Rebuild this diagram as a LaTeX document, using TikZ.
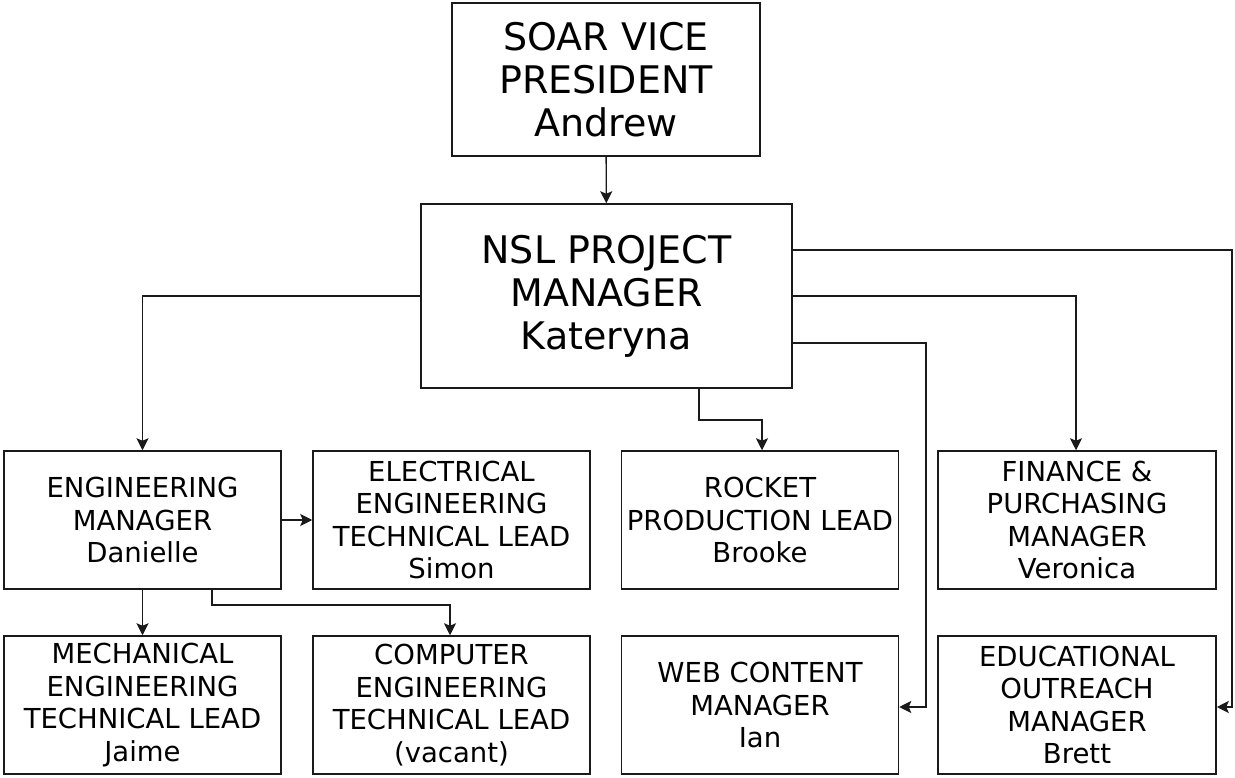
\documentclass[tikz,border=0pt]{standalone}
\usepackage{fontspec}
\setmainfont{DejaVu Sans}
\usetikzlibrary{arrows.meta}
\definecolor{ink}{HTML}{1A1A1A}
\begin{document}
\begin{tikzpicture}[x=1pt,y=-1pt,
  box/.style={draw=ink,line width=1.5pt,rectangle,align=center,inner sep=0pt,
    minimum width=277pt,minimum height=138pt,font=\fontsize{27.5}{32.6}\selectfont,text=black},
  bigbox/.style={box,font=\fontsize{38}{43}\selectfont},
  conn/.style={draw=ink,line width=1.4pt,line join=miter,-{Stealth[length=12pt,width=12pt,inset=2.5pt]}}]
\useasboundingbox (0,0) rectangle (1235,778);
\node[bigbox,minimum width=308pt,minimum height=153pt] (vp) at (606,79.5) {SOAR VICE\\PRESIDENT\\Andrew};
\node[bigbox,minimum width=371pt,minimum height=184pt] (pm) at (606.5,296) {NSL PROJECT\\MANAGER\\Kateryna};
\node[box] (eng) at (142.5,520) {ENGINEERING\\MANAGER\\Danielle};
\node[box] (ele) at (451.5,520) {ELECTRICAL\\ENGINEERING\\TECHNICAL LEAD\\Simon};
\node[box] (roc) at (760,520) {ROCKET\\PRODUCTION LEAD\\Brooke};
\node[box,minimum width=278pt] (fin) at (1077,520) {FINANCE \&\\PURCHASING\\MANAGER\\Veronica};
\node[box] (mec) at (142.5,705) {MECHANICAL\\ENGINEERING\\TECHNICAL LEAD\\Jaime};
\node[box] (com) at (451.5,705) {COMPUTER\\ENGINEERING\\TECHNICAL LEAD\\(vacant)};
\node[box] (web) at (760,705) {WEB CONTENT\\MANAGER\\Ian};
\node[box,minimum width=278pt] (edu) at (1077,705) {EDUCATIONAL\\OUTREACH\\MANAGER\\Brett};
\draw[conn] (vp) -- (pm);
\draw[conn] (pm.west) -| (eng.north);
\draw[conn] (pm.south -| 699,0) -- (699,420) -| (roc.north -| 762,0);
\draw[conn] (pm.east |- 0,250) -- (1232,250) -- (1232,707) -- (edu.east |- 0,707);
\draw[conn] (pm.east |- 0,296) -| (fin.north -| 1076,0);
\draw[conn] (pm.east |- 0,343) -- (926,343) -- (926,707) -- (web.east |- 0,707);
\draw[conn] (eng.east) -- (ele.west);
\draw[conn] (eng.south) -- (mec.north);
\draw[conn] (eng.south -| 212,0) -- (212,605) -| (com.north -| 450,0);
\end{tikzpicture}
\end{document}
